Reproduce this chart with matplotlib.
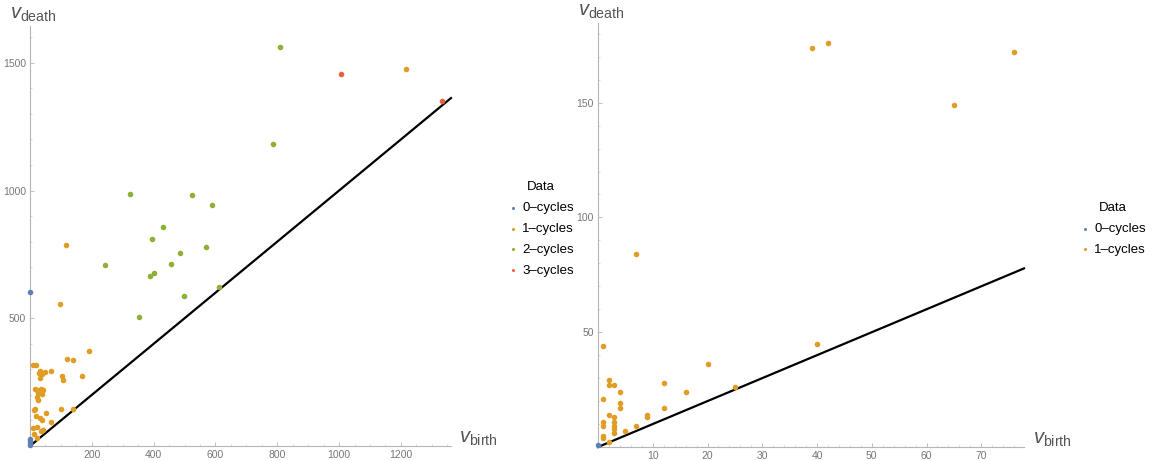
import numpy as np
import matplotlib
matplotlib.use('Agg')
import matplotlib.pyplot as plt
from matplotlib.ticker import MultipleLocator

# --- dados: diagrama de persistencia (v_birth, v_death) ---
left_0_birth = [0, 0, 0, 0, 0]
left_0_death = [601, 28, 20, 12, 3]
left_1_birth = [98, 115, 1215, 192, 120, 138, 11, 19, 32, 50, 68, 29, 39, 32, 105, 107, 169,
                16, 22, 35, 41, 27, 38, 22, 27, 101, 140, 13, 17, 52, 19, 33, 39, 67, 11, 22,
                35, 41, 13, 22]
left_1_death = [555, 786, 1475, 372, 342, 336, 316, 316, 294, 290, 294, 284, 281, 266, 274, 257, 274,
                225, 220, 225, 219, 209, 202, 190, 182, 144, 146, 140, 144, 128, 116, 108, 103, 92, 72, 74,
                58, 61, 46, 31]
left_2_birth = [809, 786, 324, 523, 589, 430, 395, 571, 484, 244, 455, 400, 387, 613, 499, 352]
left_2_death = [1562, 1183, 986, 982, 943, 857, 812, 778, 757, 710, 714, 676, 666, 621, 589, 504]
left_3_birth = [1005, 1334]
left_3_death = [1457, 1349]

right_0_birth = [0]
right_0_death = [1]
right_1_birth = [39, 42, 76, 65, 7, 40, 1, 20, 2, 2, 3, 12, 4, 16, 25, 1, 4, 4, 12, 2, 9, 9, 3,
                 1, 1, 3, 3, 3, 3, 7, 5, 1, 1, 2]
right_1_death = [174, 176, 172, 149, 84, 45, 44, 36, 29, 27, 27, 28, 24, 24, 26, 21, 19, 17, 17, 14, 14, 13, 13,
                 11, 9, 11, 9, 8, 6, 9, 7, 5, 4, 2]

labels = ['0–cycles', '1–cycles', '2–cycles', '3–cycles']
cores = ['#5E81B5', '#E19C24', '#8FB032', '#EB6235']

plt.rcParams['font.family'] = ['Liberation Sans', 'DejaVu Sans']
plt.rcParams['mathtext.fontset'] = 'custom'
plt.rcParams['mathtext.rm'] = 'Liberation Sans'
plt.rcParams['mathtext.it'] = 'Liberation Sans:italic'

fig = plt.figure(figsize=(11.53, 4.61), dpi=100)
ax1 = fig.add_axes([30 / 1153, 1 - 446 / 461, 421 / 1153, 420 / 461])
ax2 = fig.add_axes([598 / 1153, 1 - 447 / 461, 426 / 1153, 424 / 461])


def estilo_eixo(ax, xmax, ymax, xmaj, xmin, ymaj, ymin):
    ax.set_xlim(0, xmax)
    ax.set_ylim(0, ymax)
    for s in ['top', 'right']:
        ax.spines[s].set_visible(False)
    for s in ['left', 'bottom']:
        ax.spines[s].set_color('#b5b5b5')
        ax.spines[s].set_linewidth(0.8)
    ax.xaxis.set_major_locator(MultipleLocator(xmaj))
    ax.xaxis.set_minor_locator(MultipleLocator(xmin))
    ax.yaxis.set_major_locator(MultipleLocator(ymaj))
    ax.yaxis.set_minor_locator(MultipleLocator(ymin))
    ax.tick_params(which='major', direction='in', length=3, width=0.6, color='#b5b5b5',
                   labelsize=7.5, labelcolor='#777777', pad=3)
    ax.tick_params(which='minor', direction='in', length=1.5, width=0.5, color='#c8c8c8')
    ax.xaxis.set_major_formatter(lambda v, p: '' if v == 0 else f'{v:g}')
    ax.yaxis.set_major_formatter(lambda v, p: '' if v == 0 else f'{v:g}')
    # diagonal v_death = v_birth
    ax.plot([0, xmax], [0, xmax], color='black', lw=1.6, zorder=3, clip_on=False)
    ax.text(1.02, -0.005, r'$v_{\rm birth}$', transform=ax.transAxes, fontsize=14.5,
            color='#555555', ha='left', va='bottom')
    ax.text(-0.048, 1.005, r'$v_{\rm death}$', transform=ax.transAxes, fontsize=14.5,
            color='#555555', ha='left', va='bottom')


estilo_eixo(ax1, 1362, 1644, 200, 50, 500, 100)
estilo_eixo(ax2, 77.8, 184.7, 10, 2, 50, 10)

dados_esq = [(left_0_birth, left_0_death), (left_1_birth, left_1_death),
             (left_2_birth, left_2_death), (left_3_birth, left_3_death)]
h1 = []
for (b, d), lab, c in zip(dados_esq, labels, cores):
    h1.append(ax1.scatter(b, d, s=16, color=c, label=lab, zorder=4, clip_on=False, linewidths=0))

dados_dir = [(right_0_birth, right_0_death), (right_1_birth, right_1_death)]
h2 = []
for (b, d), lab, c in zip(dados_dir, labels, cores):
    h2.append(ax2.scatter(b, d, s=16, color=c, label=lab, zorder=4, clip_on=False, linewidths=0))

leg_kw = dict(frameon=False, fontsize=9.5, title_fontsize=9.5, handletextpad=0.2,
              labelspacing=0.65, markerscale=0.55, borderpad=0, handlelength=1.0,
              loc='center left')
fig.legend(handles=h1, title='Data', bbox_to_anchor=(500 / 1153, 1 - 229 / 461), **leg_kw)
fig.legend(handles=h2, title='Data', bbox_to_anchor=(1072 / 1153, 1 - 229 / 461), **leg_kw)

fig.savefig('out.png', dpi=100)
